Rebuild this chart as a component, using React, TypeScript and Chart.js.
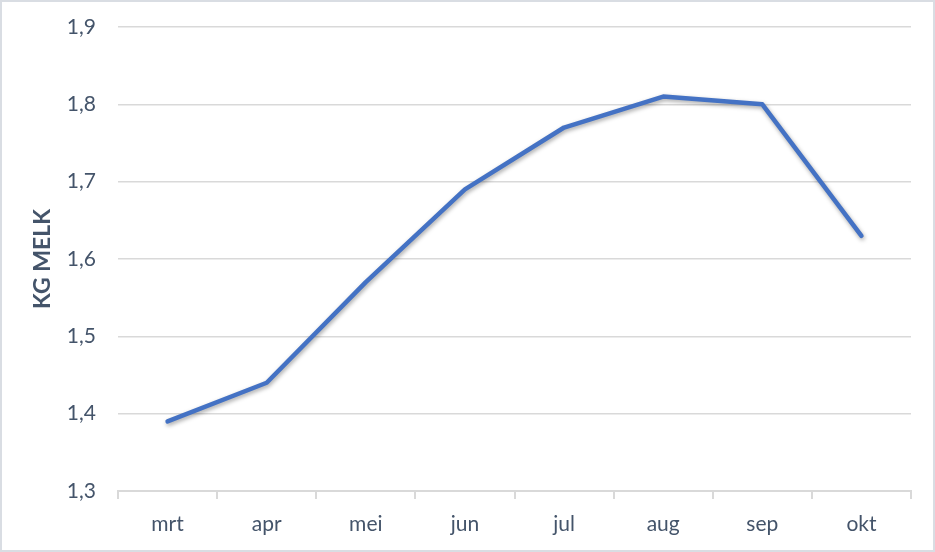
import React, { useEffect, useRef } from "react";
import { Chart, registerables } from "chart.js";

Chart.register(...registerables);

const categories = ["mrt", "apr", "mei", "jun", "jul", "aug", "sep", "okt"];
const melkValues = [1.39, 1.44, 1.57, 1.69, 1.77, 1.81, 1.8, 1.63];
const yMin = 1.3;
const yMax = 1.9;
const yStep = 0.1;
const yTitle = "KG MELK";

const textColor = "#44546A";
const gridColor = "#D9D9D9";
const lineColor = "#4472C4";
const fontFamily = "Lato, 'Open Sans', sans-serif";

const shadowPlugin = {
  id: "lineShadow",
  beforeDatasetsDraw(chart: any) {
    const ctx = chart.ctx;
    ctx.save();
    ctx.shadowColor = "rgba(0,0,0,0.35)";
    ctx.shadowBlur = 4;
    ctx.shadowOffsetX = 1;
    ctx.shadowOffsetY = 2;
  },
  afterDatasetsDraw(chart: any) {
    chart.ctx.restore();
  },
};

export default function App() {
  const ref = useRef<HTMLCanvasElement | null>(null);

  useEffect(() => {
    document.body.style.margin = "0";
    if (!ref.current) return;
    const chart = new Chart(ref.current, {
      type: "line",
      data: {
        labels: categories,
        datasets: [
          {
            data: melkValues,
            borderColor: lineColor,
            borderWidth: 4.5,
            pointRadius: 0,
            tension: 0,
            fill: false,
            borderCapStyle: "round",
            borderJoinStyle: "round",
          },
        ],
      },
      options: {
        animation: false,
        responsive: false,
        maintainAspectRatio: false,
        layout: { padding: { top: 25, right: 22, left: 0, bottom: 0 } },
        plugins: {
          legend: { display: false },
          tooltip: { enabled: false },
        },
        scales: {
          x: {
            offset: true,
            grid: {
              offset: true,
              drawOnChartArea: false,
              drawTicks: true,
              tickLength: 8,
              color: gridColor,
              lineWidth: 2,
            },
            border: { display: true, color: gridColor, width: 2 },
            ticks: {
              color: textColor,
              font: { family: fontFamily, size: 21 },
              padding: 13,
            },
            afterFit(scale: any) {
              scale.height = 552 - 491 - 2;
            },
          },
          y: {
            min: yMin,
            max: yMax,
            grid: {
              drawTicks: false,
              color: gridColor,
              lineWidth: 1.5,
            },
            border: { display: false },
            ticks: {
              stepSize: yStep,
              color: textColor,
              font: { family: fontFamily, size: 21 },
              padding: 22,
              callback: (v: any) => Number(v).toFixed(1).replace(".", ","),
            },
            title: {
              display: true,
              text: yTitle,
              color: textColor,
              font: { family: fontFamily, size: 23, weight: "bold" },
              padding: { top: 27, bottom: 0 },
            },
            afterFit(scale: any) {
              scale.width = 118 - 2;
              scale.paddingTop = 0;
              scale.paddingBottom = 0;
            },
          },
        },
      },
      plugins: [shadowPlugin],
    });
    return () => chart.destroy();
  }, []);

  return (
    <div
      style={{
        position: "absolute",
        left: 0,
        top: 0,
        width: 935,
        height: 552,
        boxSizing: "border-box",
        border: "2px solid #D9DDE3",
        background: "#fff",
      }}
    >
      <canvas ref={ref} width={931} height={548} style={{ display: "block" }} />
    </div>
  );
}
